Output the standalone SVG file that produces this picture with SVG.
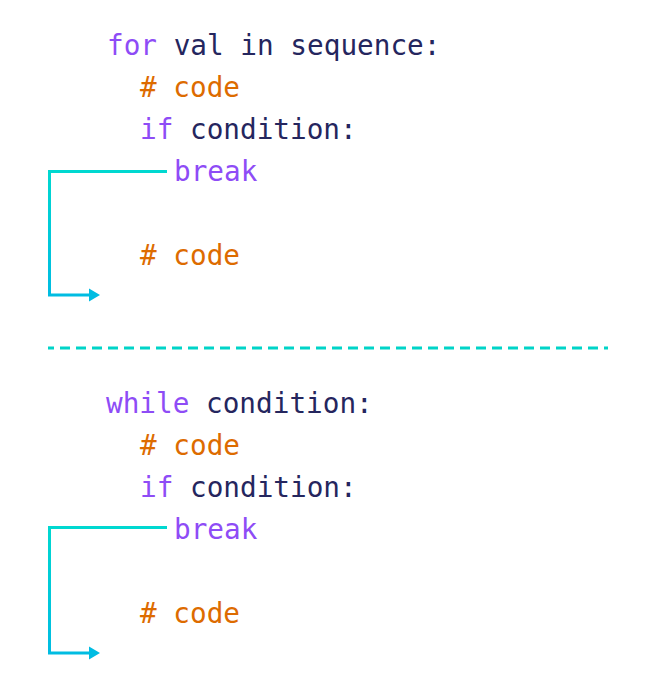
<svg xmlns="http://www.w3.org/2000/svg" width="654" height="700" viewBox="0 0 654 700">
<defs>
<style>
text{font-family:"DejaVu Sans Mono","Liberation Mono",monospace;font-size:27.7px}
.k{fill:#8e4cf6}.n{fill:#25265e}.c{fill:#dd6b00}
.arr{fill:none;stroke-width:3}
</style>
<linearGradient id="g1" gradientUnits="userSpaceOnUse" x1="0" y1="171" x2="0" y2="296"><stop offset="0" stop-color="#00d8d0"/><stop offset="1" stop-color="#00bce2"/></linearGradient>
<linearGradient id="g2" gradientUnits="userSpaceOnUse" x1="0" y1="527" x2="0" y2="654"><stop offset="0" stop-color="#00d8d0"/><stop offset="1" stop-color="#00bce2"/></linearGradient>
</defs>
<rect width="654" height="700" fill="#fff"/>
<g id="for-block">
<text x="107" y="55"><tspan class="k">for</tspan><tspan class="n"> val in sequence:</tspan></text>
<text x="140" y="97" class="c"># code</text>
<text x="140" y="139"><tspan class="k">if</tspan><tspan class="n"> condition:</tspan></text>
<text x="174" y="181" class="k">break</text>
<text x="140" y="265" class="c"># code</text>
</g>
<g id="while-block">
<text x="106" y="413"><tspan class="k">while</tspan><tspan class="n"> condition:</tspan></text>
<text x="140" y="455" class="c"># code</text>
<text x="140" y="497"><tspan class="k">if</tspan><tspan class="n"> condition:</tspan></text>
<text x="174" y="539" class="k">break</text>
<text x="140" y="623" class="c"># code</text>
</g>
<g id="connectors">
<path class="arr" stroke="url(#g1)" d="M167 171.5H49.5V295H90"/>
<path d="M89 288.5L100 295L89 301.5Z" fill="#00bce2"/>
<path class="arr" stroke="url(#g2)" d="M167 527.5H49.5V653H90"/>
<path d="M89 646.5L100 653L89 659.5Z" fill="#00bce2"/>
<line x1="48" y1="348" x2="608" y2="348" stroke="#00d4c8" stroke-width="3" stroke-dasharray="10 6" stroke-dashoffset="4"/>
</g>
</svg>
